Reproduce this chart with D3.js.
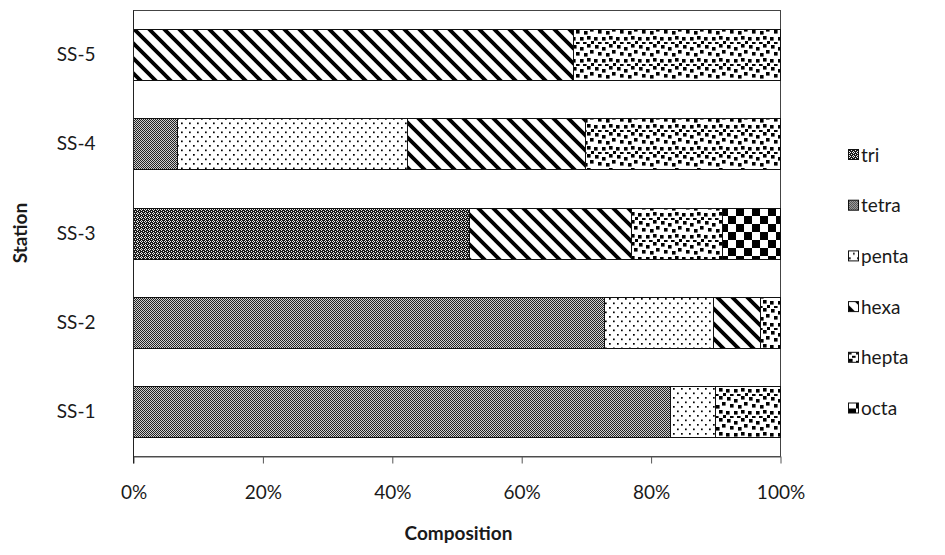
<!DOCTYPE html>
<html><head><meta charset="utf-8">
<script src="https://cdn.jsdelivr.net/npm/d3@7/dist/d3.min.js"></script>
<style>body{margin:0;background:#fff}svg{display:block}</style>
</head><body>
<svg id="c" width="945" height="555"></svg>
<script>
const stations = ["SS-1","SS-2","SS-3","SS-4","SS-5"];
const seriesNames = ["tri","tetra","penta","hexa","hepta","octa"];
const tri   = [0, 0, 52, 0, 0];
const tetra = [83, 72.8, 0, 6.8, 0];
const penta = [7, 16.8, 0, 35.6, 0];
const hexa  = [0, 7.3, 25, 27.5, 68];
const hepta = [10, 3.1, 14, 30.1, 32];
const octa  = [0, 0, 9, 0, 0];
const xTicks = [0, 0.2, 0.4, 0.6, 0.8, 1];

const values = {tri, tetra, penta, hexa, hepta, octa};
const rows = stations.map((s, i) => {
  const r = {station: s};
  seriesNames.forEach(k => r[k] = values[k][i]);
  return r;
});
const stack = d3.stack().keys(seriesNames).offset(d3.stackOffsetExpand)(rows);

const svg = d3.select("#c");
const font = "Lato, 'Open Sans', sans-serif";
const L = 133, R = 780, T = 10, B = 456;
const x = d3.scaleLinear().domain([0, 1]).range([L, R]);
const y = d3.scaleBand().domain(stations.slice().reverse()).range([T, B]).paddingInner(0.43).paddingOuter(0.215);

// patterns
const defs = svg.append("defs");
function pat(id, w, h) {
  const p = defs.append("pattern").attr("id", id).attr("patternUnits", "userSpaceOnUse")
    .attr("width", w).attr("height", h);
  p.append("rect").attr("width", w).attr("height", h).attr("fill", "#fff");
  return p;
}
// tri: dark with small white crosses
{
  const p = pat("p-tri", 4, 4);
  p.append("rect").attr("width", 4).attr("height", 4).attr("fill", "#1a1a1a");
  [[1,0],[0,1],[2,1],[1,2],[3,3]].forEach(([a,b]) => p.append("rect").attr("x", a).attr("y", b).attr("width", 1).attr("height", 1).attr("fill", "#eee"));
}
// tetra: fine gray checker
{
  const p = pat("p-tetra", 2, 2);
  p.append("rect").attr("width", 2).attr("height", 2).attr("fill", "#cfcfcf");
  p.append("rect").attr("x", 0).attr("y", 0).attr("width", 1).attr("height", 1).attr("fill", "#222");
  p.append("rect").attr("x", 1).attr("y", 1).attr("width", 1).attr("height", 1).attr("fill", "#222");
}
// penta: sparse dots
{
  const p = pat("p-penta", 8, 9);
  [[1,1],[5,5.5]].forEach(([a,b]) => p.append("rect").attr("x", a).attr("y", b).attr("width", 1.7).attr("height", 1.7).attr("fill", "#000"));
}
// hexa: wide downward diagonal
{
  const p = pat("p-hexa", 15, 15);
  p.append("path").attr("d", "M-3,-3L18,18M-3,12L3,18M12,-3L18,3").attr("stroke", "#000").attr("stroke-width", 3.8);
}
// hepta: large confetti
{
  const p = pat("p-hepta", 22, 22);
  [[1,1],[8,3],[15,0],[4,8],[12,9],[18,6],[0,15],[8,15],[15,14],[19,19],[11,20],[4,20]]
    .forEach(([a,b]) => p.append("rect").attr("x", a).attr("y", b).attr("width", 3.6).attr("height", 3.6).attr("fill", "#000"));
}
// octa: large checker
{
  const p = pat("p-octa", 16, 16);
  p.append("rect").attr("x", 0).attr("y", 0).attr("width", 8).attr("height", 8).attr("fill", "#000");
  p.append("rect").attr("x", 8).attr("y", 8).attr("width", 8).attr("height", 8).attr("fill", "#000");
}

// plot frame
svg.append("rect").attr("x", L + 0.5).attr("y", T + 0.5).attr("width", R - L).attr("height", B - T)
  .attr("fill", "#fff").attr("stroke", "#444").attr("stroke-width", 1);

// bars
svg.append("g").selectAll("g").data(stack).join("g")
  .attr("fill", d => `url(#p-${d.key})`)
  .selectAll("rect").data(d => d.filter(v => v[1] - v[0] > 0)).join("rect")
  .attr("x", d => Math.round(x(d[0])) + 0.5)
  .attr("y", d => Math.round(y(d.data.station)) + 0.5)
  .attr("width", d => Math.round(x(d[1])) - Math.round(x(d[0])))
  .attr("height", Math.round(y.bandwidth()))
  .attr("stroke", "#111").attr("stroke-width", 1);

// x axis
const xAxis = svg.append("g").attr("transform", `translate(0.5,${B + 0.5})`)
  .call(d3.axisBottom(x).tickValues(xTicks).tickFormat(d3.format(".0%")).tickSizeInner(7).tickSizeOuter(0).tickPadding(22));
xAxis.select(".domain").attr("stroke", "#555");
xAxis.selectAll(".tick line").attr("stroke", "#555");
xAxis.selectAll("text").attr("font-family", font).attr("font-size", 19).attr("fill", "#1a1a1a");

// y axis
const yAxis = svg.append("g").attr("transform", `translate(${L + 0.5},0.5)`)
  .call(d3.axisLeft(y).tickSize(0).tickPadding(38));
yAxis.select(".domain").attr("stroke", "#222").attr("d", `M0,${T}V${B + 7}`);
yAxis.selectAll("text").attr("font-family", font).attr("font-size", 19).attr("fill", "#1a1a1a");

// titles
svg.append("text").attr("x", (L + R) / 2 + 2).attr("y", 540).attr("text-anchor", "middle")
  .attr("font-family", font).attr("font-weight", "bold").attr("font-size", 19).attr("fill", "#1a1a1a").text("Composition");
svg.append("text").attr("transform", `translate(27,${(T + B) / 2}) rotate(-90)`).attr("text-anchor", "middle")
  .attr("font-family", font).attr("font-weight", "bold").attr("font-size", 19).attr("fill", "#1a1a1a").text("Station");

// legend
const lg = svg.append("g").selectAll("g").data(seriesNames).join("g")
  .attr("transform", (d, i) => `translate(848,${155 + i * 50.7})`);
lg.append("rect").attr("x", 0.5).attr("y", -5.5).attr("width", 10).attr("height", 10)
  .attr("fill", d => `url(#p-${d})`).attr("stroke", "#111");
lg.append("text").attr("x", 13).attr("y", 0).attr("dy", "0.35em")
  .attr("font-family", font).attr("font-size", 19).attr("fill", "#1a1a1a").text(d => d);
</script>
</body></html>
